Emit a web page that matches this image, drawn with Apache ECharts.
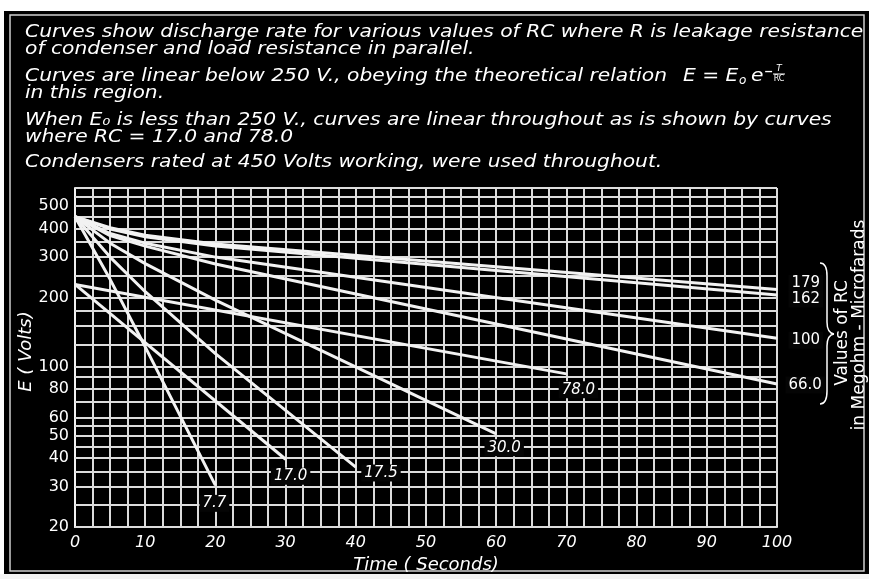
<!DOCTYPE html>
<html>
<head>
<meta charset="utf-8">
<script src="https://cdn.jsdelivr.net/npm/echarts@6/dist/echarts.min.js"></script>
<style>
  html, body { margin: 0; padding: 0; background: #fff; }
  #chart { width: 869px; height: 579px; }
</style>
</head>
<body>
<div id="chart"></div>
<script>
// discharge curves: [time s, volts]
const rc179 = [[0, 450], [5, 403], [10, 374], [20, 342], [100, 217]];
const rc162 = [[0, 450], [5, 398], [10, 368], [20, 335], [100, 205]];
const rc100 = [[0, 450], [5, 380], [10, 345], [20, 300], [100, 133]];
const rc66 = [[0, 450], [5, 372], [10, 335], [20, 280], [100, 84]];
const rc30 = [[0, 450], [5, 345], [10, 281], [20, 195], [60, 51]];
const rc175 = [[0, 450], [5, 300], [10, 212], [20, 114], [40, 36.5]];
const rc77 = [[0, 450], [5, 240], [10, 122], [20, 30.4]];
const rc78 = [[0, 228], [70, 93]];
const rc17 = [[0, 228], [30, 39.5]];

// ruled lines of the semi-log paper and the labelled ones
const gridVolts = [20, 25, 30, 35, 40, 45, 50, 55, 60, 70, 80, 90, 100,
  125, 150, 175, 200, 250, 300, 350, 400, 450, 500, 550, 600];
const tickVolts = [20, 30, 40, 50, 60, 80, 100, 200, 300, 400, 500];

const white = '#f2f2f2';
const font = 'DejaVu Sans';

// label at the end of each curve
function curve(name, pts, lab) {
  const data = pts.map(p => p.slice());
  const last = data.length - 1;
  data[last] = {
    value: pts[last],
    label: Object.assign({
      show: true,
      formatter: name,
      color: '#fff',
      fontFamily: font,
      fontStyle: 'italic',
      fontSize: 15,
      backgroundColor: '#050505',
      padding: [1, 3]
    }, lab)
  };
  return {
    type: 'line',
    name: name,
    data: data,
    symbol: 'circle',
    symbolSize: 1,
    showSymbol: true,
    itemStyle: { color: white },
    z: 5,
    lineStyle: { color: white, width: 3 },
    label: { show: false },
    animation: false
  };
}

const series = [
  {
    type: 'line',
    data: [],
    z: 1,
    markLine: {
      silent: true,
      symbol: ['none', 'none'],
      animation: false,
      lineStyle: { color: '#dcdcdc', width: 2, type: 'solid' },
      data: gridVolts.map(v => ({
        yAxis: v,
        label: {
          show: tickVolts.includes(v),
          position: 'start',
          distance: 6,
          formatter: String(v),
          color: '#fff',
          fontFamily: font,
          fontSize: 16
        }
      }))
    }
  },
  curve('179', rc179, { position: 'right', offset: [6, -6], fontStyle: 'normal' }),
  curve('162', rc162, { position: 'right', offset: [6, 4], fontStyle: 'normal' }),
  curve('100', rc100, { position: 'right', offset: [6, 2], fontStyle: 'normal' }),
  curve('66.0', rc66, { position: 'right', offset: [3, 1], fontStyle: 'normal' }),
  curve('30.0', rc30, { position: 'bottom', offset: [8, 0] }),
  curve('17.5', rc175, { position: 'right', offset: [0, 6] }),
  curve('7.7', rc77, { position: 'bottom', offset: [-1, 4] }),
  curve('78.0', rc78, { position: 'bottom', offset: [12, 2] }),
  curve('17.0', rc17, { position: 'bottom', offset: [5, 3] })
];

const noteLines = [
  'Curves show discharge rate for various values of RC where R is leakage resistance',
  'of condenser and load resistance in parallel.',
  'Curves are linear below 250 V., obeying the theoretical relation',
  'in this region.',
  'When E\u2080 is less than 250 V., curves are linear throughout as is shown by curves',
  'where RC = 17.0 and 78.0',
  'Condensers rated at 450 Volts working, were used throughout.'
];
const noteY = [33, 50, 77, 94, 121, 138, 163];

const noteStyle = { fill: '#fff', font: 'italic 17px "DejaVu Sans"', textVerticalAlign: 'middle' };
const stretch = 1.19;

const braceStyle = { stroke: '#fff', lineWidth: 1.5, fill: null };

const chart = echarts.init(document.getElementById('chart'));
chart.setOption({
  backgroundColor: '#000',
  animation: false,
  grid: { left: 75, top: 188, width: 702, height: 342 },
  xAxis: {
    type: 'value',
    min: 0,
    max: 100,
    interval: 2.5,
    name: 'Time ( Seconds)',
    nameLocation: 'middle',
    nameGap: 24,
    nameTextStyle: { color: '#fff', fontFamily: font, fontStyle: 'italic', fontSize: 18 },
    axisLine: { show: true, lineStyle: { color: white, width: 2 } },
    axisTick: { show: false },
    axisLabel: {
      color: '#fff',
      fontFamily: font,
      fontStyle: 'italic',
      fontSize: 16,
      margin: 8,
      formatter: v => (v % 10 === 0 ? String(v) : '')
    },
    splitLine: { show: true, lineStyle: { color: '#dcdcdc', width: 2 } }
  },
  yAxis: {
    type: 'log',
    logBase: 10,
    min: 20,
    max: 600,
    name: 'E ( Volts)',
    nameLocation: 'middle',
    nameRotate: 90,
    nameGap: 40,
    nameTextStyle: { color: '#fff', fontFamily: font, fontStyle: 'italic', fontSize: 18, padding: [0, 0, 0, 12] },
    axisLine: { show: true, lineStyle: { color: white, width: 2 } },
    axisTick: { show: false },
    axisLabel: { show: false },
    splitLine: { show: false }
  },
  series: series,
  graphic: [
    // paper edge around the black plate
    { type: 'rect', shape: { x: 0, y: 0, width: 869, height: 11 }, style: { fill: '#fff' } },
    { type: 'rect', shape: { x: 0, y: 0, width: 4, height: 579 }, style: { fill: '#fff' } },
    { type: 'rect', shape: { x: 0, y: 574, width: 869, height: 5 }, style: { fill: '#f4f4f4' } },
    { type: 'rect', shape: { x: 10, y: 15, width: 854, height: 556 }, style: { fill: null, stroke: '#cfcfcf', lineWidth: 1.5 } },
    ...noteLines.map((t, i) => ({
      type: 'text', x: 25, y: noteY[i], scaleX: stretch, style: Object.assign({ text: t }, noteStyle)
    })),
    // E = E0 e^(-T/RC)
    { type: 'text', x: 683, y: 77, scaleX: stretch, style: Object.assign({ text: 'E = E' }, noteStyle) },
    { type: 'text', x: 739, y: 81, style: { text: 'o', fill: '#fff', font: 'italic 12px "DejaVu Sans"', textVerticalAlign: 'middle' } },
    { type: 'text', x: 751, y: 77, scaleX: stretch, style: Object.assign({ text: 'e' }, noteStyle) },
    { type: 'text', x: 764, y: 72, style: { text: '\u2212', fill: '#fff', font: 'bold 11px "DejaVu Sans"', textVerticalAlign: 'middle' } },
    { type: 'text', x: 779, y: 69, style: { text: 'T', fill: '#fff', font: 'italic 9px "DejaVu Sans"', textAlign: 'center', textVerticalAlign: 'middle' } },
    { type: 'line', shape: { x1: 773, y1: 74, x2: 785, y2: 74 }, style: { stroke: '#fff', lineWidth: 1 } },
    { type: 'text', x: 779, y: 79, style: { text: 'RC', fill: '#fff', font: '8px "DejaVu Sans"', textAlign: 'center', textVerticalAlign: 'middle' } },
    // brace and the right-hand caption
    { type: 'bezierCurve', shape: { x1: 820, y1: 263, x2: 827, y2: 276, cpx1: 827, cpy1: 263 }, style: braceStyle },
    { type: 'line', shape: { x1: 827, y1: 276, x2: 827, y2: 322 }, style: braceStyle },
    { type: 'bezierCurve', shape: { x1: 827, y1: 322, x2: 834, y2: 334, cpx1: 827, cpy1: 333 }, style: braceStyle },
    { type: 'bezierCurve', shape: { x1: 834, y1: 334, x2: 827, y2: 346, cpx1: 827, cpy1: 335 }, style: braceStyle },
    { type: 'line', shape: { x1: 827, y1: 346, x2: 827, y2: 391 }, style: braceStyle },
    { type: 'bezierCurve', shape: { x1: 827, y1: 391, x2: 820, y2: 404, cpx1: 827, cpy1: 404 }, style: braceStyle },
    { type: 'text', x: 843, y: 333, rotation: Math.PI / 2, style: { text: 'Values of RC', fill: '#fff', font: '17px "DejaVu Sans"', textAlign: 'center', textVerticalAlign: 'middle' } },
    { type: 'text', x: 860, y: 325, rotation: Math.PI / 2, style: { text: 'in Megohm - Microfarads', fill: '#fff', font: '17px "DejaVu Sans"', textAlign: 'center', textVerticalAlign: 'middle' } }
  ]
});
</script>
</body>
</html>
